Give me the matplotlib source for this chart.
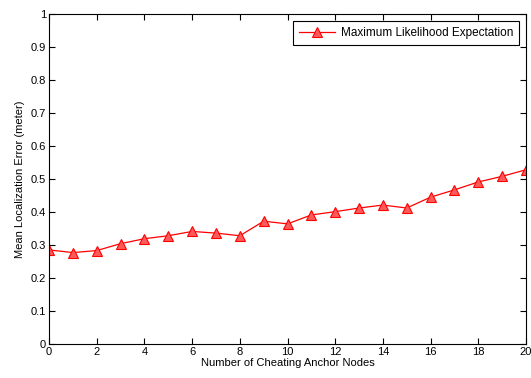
import matplotlib
matplotlib.use("Agg")
import matplotlib.pyplot as plt

plt.rcParams["font.family"] = ["Liberation Sans", "DejaVu Sans"]
plt.rcParams["font.size"] = 8

nodes = list(range(21))
error = [0.285, 0.277, 0.283, 0.304, 0.319, 0.328, 0.341, 0.336, 0.328, 0.372, 0.364,
         0.391, 0.401, 0.412, 0.421, 0.412, 0.445, 0.467, 0.491, 0.508, 0.528]
xticks = [0, 2, 4, 6, 8, 10, 12, 14, 16, 18, 20]
yticks = [0, 0.1, 0.2, 0.3, 0.4, 0.5, 0.6, 0.7, 0.8, 0.9, 1]
ytick_labels = ["0", "0.1", "0.2", "0.3", "0.4", "0.5", "0.6", "0.7", "0.8", "0.9", "1"]

fig = plt.figure(figsize=(5.31, 3.78), dpi=100)
ax = fig.add_axes([0.0923, 0.09, 0.8983, 0.873])

ax.plot(nodes, error, color="red", linewidth=0.9, marker="^", markersize=6.5,
        markerfacecolor="#ff5a5a", markeredgecolor="red", markeredgewidth=0.8,
        label="Maximum Likelihood Expectation")

ax.set_xlim(0, 20)
ax.set_ylim(0, 1)
ax.set_xticks(xticks)
ax.set_yticks(yticks)
ax.set_yticklabels(ytick_labels)
ax.tick_params(direction="in", top=True, right=True, length=4, width=0.8, pad=2,
               labelsize=8)
for s in ax.spines.values():
    s.set_linewidth(0.8)

ax.set_xlabel("Number of Cheating Anchor Nodes", labelpad=1)
ax.set_ylabel("Mean Localization Error (meter)", labelpad=4)

leg = ax.legend(loc="upper right", fancybox=False, edgecolor="black", framealpha=1,
                handlelength=3.0, handletextpad=0.5, borderpad=0.5, fontsize=8.5,
                borderaxespad=0.6)
leg.get_frame().set_linewidth(0.8)

fig.savefig("out.png", dpi=100)
plt.close(fig)
